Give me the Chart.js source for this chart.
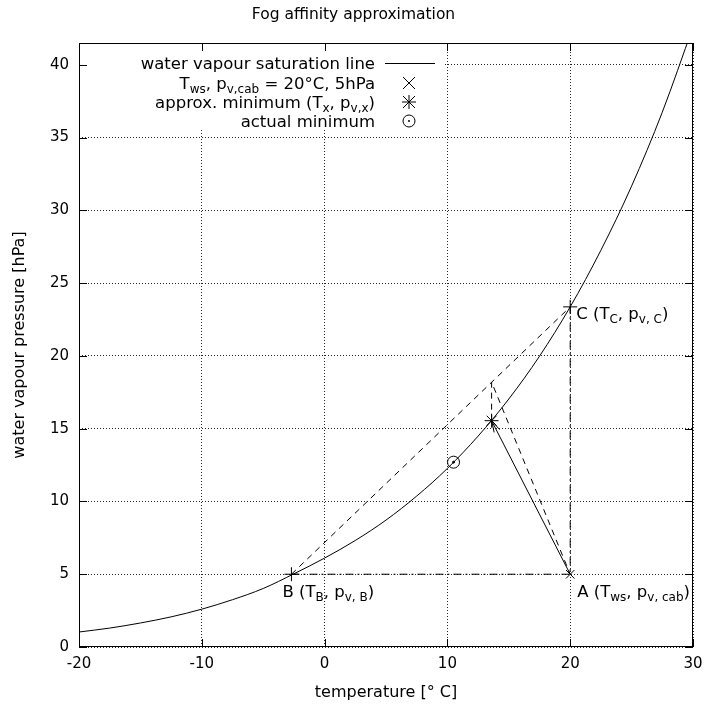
<!DOCTYPE html>
<html>
<head>
<meta charset="utf-8">
<title>Fog affinity approximation</title>
<script src="https://cdn.jsdelivr.net/npm/chart.js@4/dist/chart.umd.min.js"></script>
<style>
  html, body { margin: 0; padding: 0; background: #fff; }
  #wrap { width: 707px; height: 709px; }
</style>
</head>
<body>
<div id="wrap"><canvas id="chart" width="707" height="709"></canvas></div>
<script>
// Saturation vapour pressure of water [hPa] against temperature [°C]
const temperature = [-20, -17.5, -15, -12.5, -10, -7.5, -5, -2.5, 0, 2.5, 5, 7.5, 10, 12.5, 15, 17.5, 20, 22.5, 25, 27.5, 30];
const saturationPressure = [1.03, 1.30, 1.65, 2.07, 2.60, 3.25, 4.02, 5.03, 6.11, 7.32, 8.72, 10.37, 12.27, 14.49, 17.04, 19.98, 23.37, 27.26, 31.67, 36.75, 42.6];

// Construction points A, B, C
const pointNames = ['A', 'B', 'C'];
const pointT = [20, -2.7, 20];
const pointP = [5, 5, 23.37];

// Approximated minimum, its projection onto B–C, and the actual minimum
const approxMin = [13.6, 15.55];
const projection = [13.6, 18.2];
const actualMin = [10.5, 12.7];

// Axis ticks
const xTicks = [-20, -10, 0, 10, 20, 30];
const yTicks = [0, 5, 10, 15, 20, 25, 30, 35, 40];
const xRange = [-20, 30];
const yRange = [0, 41.5];

const FONT = '"DejaVu Sans", sans-serif';
const TICK_FS = 15;
const TITLE_FS = 15.5;
const AXIS_FS = 16;
const FS = 16.5;
const SUB = 12;

const xy = (t, p) => ({ x: t, y: p });
const A = xy(pointT[0], pointP[0]);
const B = xy(pointT[1], pointP[1]);
const C = xy(pointT[2], pointP[2]);
const X = xy(approxMin[0], approxMin[1]);
const P = xy(projection[0], projection[1]);
const M = xy(actualMin[0], actualMin[1]);

const curve = temperature.map((t, i) => xy(t, saturationPressure[i]));

const DASHED = [6, 5];
const DASHDOT = [8, 4, 2, 4];

const lineSet = (data, dash, extra) => Object.assign({
  data, borderColor: '#000', borderWidth: 1, borderDash: dash || [],
  pointRadius: 0, fill: false, tension: 0
}, extra || {});

const markerSet = (data, style, radius, extra) => Object.assign({
  data, showLine: false, pointStyle: style, pointRadius: radius,
  pointBorderColor: '#000', pointBackgroundColor: 'rgba(0,0,0,0)',
  pointBorderWidth: 1, borderColor: '#000'
}, extra || {});

// Text made of normal and subscript runs
function richWidth(ctx, runs) {
  let w = 0;
  for (const [t, sub] of runs) {
    ctx.font = (sub ? SUB : FS) + 'px ' + FONT;
    w += ctx.measureText(t).width;
  }
  return w;
}
function drawRich(ctx, runs, x, y, align) {
  ctx.save();
  ctx.fillStyle = '#000';
  ctx.textBaseline = 'alphabetic';
  ctx.textAlign = 'left';
  let cx = align === 'right' ? x - richWidth(ctx, runs) : x;
  const base = y + FS * 0.36;
  for (const [t, sub] of runs) {
    ctx.font = (sub ? SUB : FS) + 'px ' + FONT;
    ctx.fillText(t, cx, base + (sub ? 4 : 0));
    cx += ctx.measureText(t).width;
  }
  ctx.restore();
}

function markCross(ctx, x, y, r, rot) {
  ctx.beginPath();
  if (rot) {
    ctx.moveTo(x - r, y - r); ctx.lineTo(x + r, y + r);
    ctx.moveTo(x - r, y + r); ctx.lineTo(x + r, y - r);
  } else {
    ctx.moveTo(x - r, y); ctx.lineTo(x + r, y);
    ctx.moveTo(x, y - r); ctx.lineTo(x, y + r);
  }
  ctx.stroke();
}

const keyEntries = [
  [['water vapour saturation line', 0]],
  [['T', 0], ['ws', 1], [', p', 0], ['v,cab', 1], [' = 20°C, 5hPa', 0]],
  [['approx. minimum (T', 0], ['x', 1], [', p', 0], ['v,x', 1], [')', 0]],
  [['actual minimum', 0]]
];
const keySymbols = ['line', 'crossRot', 'star', 'circleDot'];

const pointLabels = [
  [['A (T', 0], ['ws', 1], [', p', 0], ['v, cab', 1], [')', 0]],
  [['B (T', 0], ['B', 1], [', p', 0], ['v, B', 1], [')', 0]],
  [['C (T', 0], ['C', 1], [', p', 0], ['v, C', 1], [')', 0]]
];
const labelOffsets = [[7, 17], [-9, 17], [6, 6]];

const decorations = {
  id: 'decorations',
  beforeDatasetsDraw(chart) {
    const { ctx, chartArea: a } = chart;
    // opaque key background
    ctx.save();
    ctx.fillStyle = '#fff';
    ctx.fillRect(a.left + 0.5, a.top + 0.5, 443 - a.left, 128 - a.top);
    ctx.restore();
  },
  afterDatasetsDraw(chart) {
    const { ctx, chartArea: a, scales } = chart;
    const sx = scales.x, sy = scales.y;
    ctx.save();
    ctx.strokeStyle = '#000';
    ctx.lineWidth = 1;
    ctx.setLineDash([]);

    // frame
    ctx.strokeRect(Math.round(a.left) + 0.5, Math.round(a.top) + 0.5,
      Math.round(a.right - a.left) - 1, Math.round(a.bottom - a.top) - 1);

    // inward tick marks on all four sides
    const TL = 8;
    ctx.beginPath();
    for (const v of xTicks) {
      const px = Math.round(sx.getPixelForValue(v)) + 0.5;
      ctx.moveTo(px, a.bottom); ctx.lineTo(px, a.bottom - TL);
      ctx.moveTo(px, a.top); ctx.lineTo(px, a.top + TL);
    }
    for (const v of yTicks) {
      const py = Math.round(sy.getPixelForValue(v)) + 0.5;
      ctx.moveTo(a.left, py); ctx.lineTo(a.left + TL, py);
      ctx.moveTo(a.right, py); ctx.lineTo(a.right - TL, py);
    }
    ctx.stroke();

    // arrow head at the approximated minimum
    const ax = sx.getPixelForValue(A.x), ay = sy.getPixelForValue(A.y);
    const tx = sx.getPixelForValue(X.x), ty = sy.getPixelForValue(X.y);
    const ang = Math.atan2(ty - ay, tx - ax);
    const hl = 12, hw = 0.26;
    ctx.beginPath();
    ctx.moveTo(tx - hl * Math.cos(ang - hw), ty - hl * Math.sin(ang - hw));
    ctx.lineTo(tx, ty);
    ctx.lineTo(tx - hl * Math.cos(ang + hw), ty - hl * Math.sin(ang + hw));
    ctx.stroke();

    // point labels
    pointNames.forEach((n, i) => {
      const px = sx.getPixelForValue(pointT[i]);
      const py = sy.getPixelForValue(pointP[i]);
      drawRich(ctx, pointLabels[i], px + labelOffsets[i][0], py + labelOffsets[i][1], 'left');
    });

    // key
    const rows = [63, 83, 102, 121];
    const textRight = 375, symC = 409;
    keyEntries.forEach((runs, i) => {
      const y = rows[i];
      drawRich(ctx, runs, textRight, y, 'right');
      ctx.beginPath();
      const s = keySymbols[i];
      if (s === 'line') {
        ctx.moveTo(385, y + 0.5); ctx.lineTo(435, y + 0.5); ctx.stroke();
      } else if (s === 'crossRot') {
        markCross(ctx, symC, y, 6, true);
      } else if (s === 'star') {
        markCross(ctx, symC, y, 6, true); markCross(ctx, symC, y, 7, false);
      } else {
        ctx.arc(symC, y, 6, 0, Math.PI * 2); ctx.stroke();
        ctx.beginPath(); ctx.arc(symC, y, 1, 0, Math.PI * 2); ctx.fillStyle = '#000'; ctx.fill();
      }
    });
    ctx.restore();
  }
};

new Chart(document.getElementById('chart'), {
  type: 'line',
  data: {
    datasets: [
      lineSet(curve, [], { tension: 0.4, cubicInterpolationMode: 'monotone' }),
      lineSet([B, C], DASHED),
      lineSet([X, P, A], DASHED),
      lineSet([B, A, C], DASHDOT),
      lineSet([A, X]),
      markerSet([A], 'crossRot', 6),
      markerSet([B, C], 'cross', 7),
      markerSet([X], 'star', 7),
      markerSet([M], 'circle', 6),
      markerSet([M], 'circle', 1, { pointBackgroundColor: '#000' })
    ]
  },
  options: {
    responsive: false,
    animation: false,
    devicePixelRatio: 1,
    layout: { padding: { left: 14, right: 14, top: 0, bottom: 0 } },
    plugins: {
      legend: { display: false },
      tooltip: { enabled: false },
      title: {
        display: true,
        text: 'Fog affinity approximation',
        color: '#000',
        font: { family: FONT, size: TITLE_FS, weight: 'normal' },
        padding: { top: 6, bottom: 18.4 }
      }
    },
    scales: {
      x: {
        type: 'linear',
        min: xRange[0], max: xRange[1],
        afterBuildTicks: s => { s.ticks = xTicks.map(v => ({ value: v })); },
        afterFit: s => { s.height = 62; s.paddingRight = 12; s.paddingLeft = 12; },
        ticks: { color: '#000', font: { family: FONT, size: TICK_FS }, padding: 8, maxRotation: 0 },
        grid: { color: 'rgba(0,0,0,0.85)', lineWidth: 1, drawTicks: false },
        border: { display: false, dash: [1, 2] },
        title: {
          display: true, text: 'temperature [° C]', color: '#000',
          font: { family: FONT, size: AXIS_FS }, padding: { top: 0, bottom: 7 }
        }
      },
      y: {
        type: 'linear',
        min: yRange[0], max: yRange[1],
        afterBuildTicks: s => { s.ticks = yTicks.map(v => ({ value: v })); },
        afterFit: s => { s.width = 65; },
        ticks: { color: '#000', font: { family: FONT, size: TICK_FS }, padding: 10 },
        grid: { color: 'rgba(0,0,0,0.85)', lineWidth: 1, drawTicks: false },
        border: { display: false, dash: [1, 2] },
        title: {
          display: true, text: 'water vapour pressure [hPa]', color: '#000',
          font: { family: FONT, size: AXIS_FS }, padding: { top: -3.5, bottom: 0 }
        }
      }
    }
  },
  plugins: [decorations]
});
</script>
</body>
</html>
